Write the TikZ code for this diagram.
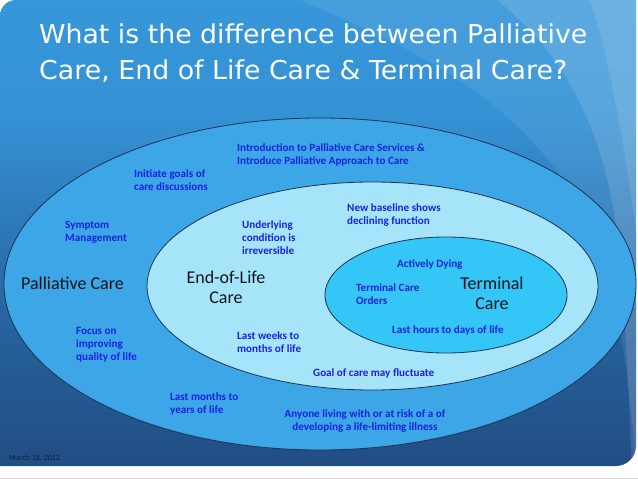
\documentclass[tikz,border=0pt]{standalone}
\usepackage{fontspec}
\setmainfont{Carlito}
\newfontfamily\titlefont{DejaVu Sans}
\usetikzlibrary{shapes.geometric}
\definecolor{bgtop}{RGB}{58,162,228}
\definecolor{bgmidA}{RGB}{52,145,212}
\definecolor{bgmidB}{RGB}{38,98,158}
\definecolor{bgmidC}{RGB}{31,68,118}
\definecolor{bgbot}{RGB}{26,46,86}
\definecolor{outerfill}{RGB}{60,166,230}
\definecolor{midfill}{RGB}{166,228,249}
\definecolor{innerfill}{RGB}{52,198,246}
\definecolor{rimcol}{RGB}{26,52,84}
\definecolor{labelblue}{RGB}{24,34,225}
\definecolor{bigtext}{RGB}{18,20,28}
\definecolor{datecol}{RGB}{18,30,58}
\pgfdeclareverticalshading{slidebg}{100bp}{color(0bp)=(bgbot); color(18bp)=(bgmidC); color(40bp)=(bgmidB); color(62bp)=(bgmidA); color(100bp)=(bgtop)}
\tikzset{
  ring/.style={ellipse, draw=rimcol, line width=0.8bp, inner sep=0pt},
  bluelabel/.style={font=\fontsize{11.1bp}{13bp}\selectfont\bfseries, text=labelblue, inner sep=0pt, align=left, anchor=base west},
  biglabel/.style={font=\fontsize{18bp}{20bp}\selectfont, text=bigtext, inner sep=0pt, align=center, anchor=base},
  titleline/.style={font=\titlefont\fontsize{26bp}{30bp}\selectfont, text=white, inner sep=0pt, anchor=base west}
}
\begin{document}
\begin{tikzpicture}[x=1bp,y=-1bp]
\useasboundingbox (0,0) rectangle (638,479);
\fill[white] (0,0) rectangle (638,479);
\draw[black!15, line width=0.8bp] (0,478.5) -- (638,478.5);
% slide background
\def\slideshape{(0,466) -- (0,16) .. controls (0,7) and (7,0) .. (16,0) -- (636,0) -- (636,446) .. controls (636,457) and (627,466) .. (616,466) -- cycle}
\shade[shading=slidebg] \slideshape;
\begin{scope}
  \clip \slideshape;
  \fill[white, opacity=0.08] (300,0) .. controls (420,50) and (540,110) .. (590,230) .. controls (620,300) and (630,380) .. (636,470) -- (640,470) -- (640,0) -- cycle;
  \fill[white, opacity=0.12] (497,0) .. controls (560,50) and (600,120) .. (615,220) .. controls (625,300) and (628,380) .. (632,470) -- (640,470) -- (640,0) -- cycle;
  \fill[white, opacity=0.10] (590,0) .. controls (610,60) and (625,150) .. (636,230) -- (640,230) -- (640,0) -- cycle;
\end{scope}
% title
\node[titleline] (t1) at (39,44) {\resizebox{548bp}{\height}{What is the difference between Palliative}};
\node[titleline] (t2) at (39,80) {\resizebox{528bp}{\height}{Care, End of Life Care \& Terminal Care?}};
% rings
\node[ring, fill=outerfill, minimum width=632bp, minimum height=332bp] (outer) at (320,284) {};
\node[ring, fill=midfill, minimum width=451bp, minimum height=208bp] (middle) at (372.5,286) {};
\node[ring, fill=innerfill, minimum width=242bp, minimum height=116bp] (inner) at (446,295) {};
% big labels (base anchor = baseline of the last line)
\node[biglabel, anchor=base west] (pc) at (21,289.5) {Palliative Care};
\node[biglabel] (eol) at (226,303.5) {End-of-Life\\Care};
\node[biglabel] (tc) at (492,309) {Terminal\\Care};
% blue labels (base anchor = baseline of the last line)
\node[bluelabel] (intro) at (237,164.5) {Introduction to Palliative Care Services \&\\Introduce Palliative Approach to Care};
\node[bluelabel] (initiate) at (134,190.5) {Initiate goals of\\care discussions};
\node[bluelabel] (symptom) at (65,241.5) {Symptom\\Management};
\node[bluelabel] (underlying) at (242,254.5) {Underlying\\condition is\\irreversible};
\node[bluelabel] (baseline) at (347,224.5) {New baseline shows\\declining function};
\node[bluelabel] (dying) at (397,267.5) {Actively Dying};
\node[bluelabel] (orders) at (356,304.5) {Terminal Care\\Orders};
\node[bluelabel] (hours) at (392,333.5) {Last hours to days of life};
\node[bluelabel] (focus) at (76,360) {Focus on\\improving\\quality of life};
\node[bluelabel] (weeks) at (237,352) {Last weeks to\\months of life};
\node[bluelabel] (goal) at (313,376.5) {Goal of care may fluctuate};
\node[bluelabel] (months) at (170,413) {Last months to\\years of life};
\node[bluelabel, align=center, anchor=base] (anyone) at (365,430) {Anyone living with or at risk of a of\\developing a life-limiting illness};
% date
\node[font=\fontsize{8bp}{9bp}\selectfont, text=datecol, inner sep=0pt, anchor=base west] (date) at (9,460.5) {March 18, 2012};
\end{tikzpicture}
\end{document}
